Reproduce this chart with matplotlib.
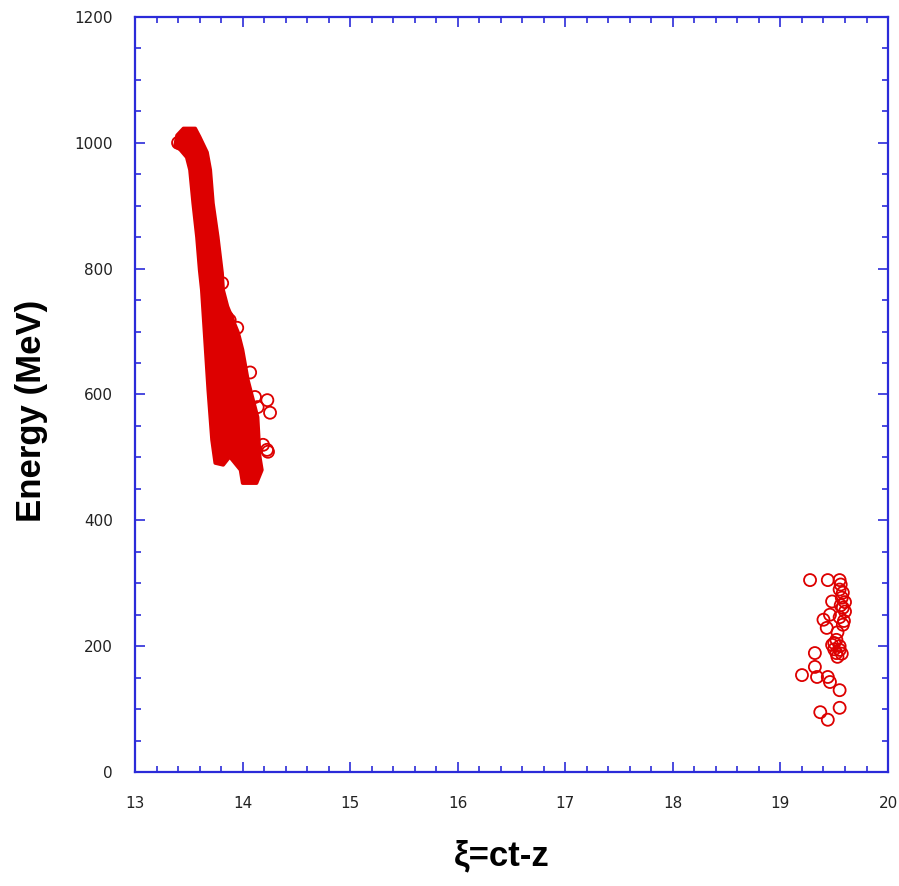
import matplotlib
matplotlib.use("Agg")
import matplotlib.pyplot as plt
from matplotlib.ticker import MultipleLocator

# ---- data ----
# outline of the dense electron bunch (xi, energy)
blob_xi = [13.39, 13.45, 13.56, 13.60, 13.67, 13.70, 13.725, 13.77, 13.81, 13.82,
           13.86, 13.96, 14.00, 14.05, 14.14, 14.16, 14.18, 14.13, 14.00, 13.98,
           13.88, 13.82, 13.745, 13.715, 13.68, 13.65, 13.62, 13.60, 13.575, 13.54,
           13.51, 13.48, 13.42, 13.37]
blob_E = [1012, 1023, 1023, 1010, 985, 957, 904, 850, 793, 766,
          740, 698, 671, 623, 564, 501, 480, 459, 459, 480,
          501, 488, 491, 528, 607, 687, 766, 798, 850, 904,
          957, 977, 989, 995]

# individual particles around the first bunch
main_xi = [13.40, 13.81, 13.855, 13.88, 13.95, 14.07, 14.115, 14.14, 14.23, 14.255,
           14.19, 14.227, 14.236]
main_E = [1000, 777, 723, 718, 706, 635, 596, 580, 591, 571,
          520, 512, 509]

# second (trailing) bunch
tail_xi = [19.275, 19.44, 19.55, 19.55, 19.57, 19.48, 19.58, 19.46, 19.40, 19.55,
           19.58, 19.43, 19.53, 19.50, 19.48, 19.55, 19.52, 19.52, 19.55, 19.50,
           19.57, 19.53, 19.56, 19.58, 19.60, 19.56, 19.60, 19.59,
           19.32, 19.32, 19.20, 19.34, 19.44, 19.46, 19.55, 19.55, 19.37, 19.44]
tail_E = [305, 305, 305, 290, 277, 271, 261, 250, 242, 246,
          234, 229, 222, 205, 202, 194, 189, 210, 200, 195,
          188, 183, 298, 285, 270, 265, 255, 240,
          189, 167, 154, 151, 151, 143, 130, 102, 95, 83]

x_min, x_max = 13, 20
y_min, y_max = 0, 1200

RED = "#dd0000"
BLUE = "#2b2bd9"

fig = plt.figure(figsize=(8.99, 8.86), dpi=100)
ax = fig.add_axes([0.1502, 0.1287, 0.8376, 0.8521])

ax.fill(blob_xi, blob_E, facecolor=RED, edgecolor=RED, linewidth=2.5,
        joinstyle="round", zorder=3)
ax.scatter(main_xi, main_E, s=75, facecolors="none", edgecolors=RED, linewidths=1.3, zorder=4)
ax.scatter(tail_xi, tail_E, s=75, facecolors="none", edgecolors=RED, linewidths=1.3, zorder=4)

ax.set_xlim(x_min, x_max)
ax.set_ylim(y_min, y_max)
ax.xaxis.set_major_locator(MultipleLocator(1))
ax.xaxis.set_minor_locator(MultipleLocator(0.2))
ax.yaxis.set_major_locator(MultipleLocator(200))
ax.yaxis.set_minor_locator(MultipleLocator(50))

for sp in ax.spines.values():
    sp.set_color(BLUE)
    sp.set_linewidth(1.6)

ax.tick_params(which="both", direction="in", top=True, right=True, color=BLUE, width=1.2)
ax.tick_params(which="major", length=7.5)
ax.tick_params(which="minor", length=4.5)
ax.tick_params(axis="x", which="major", pad=17, labelsize=11, labelcolor="#222222")
ax.tick_params(axis="y", which="major", pad=16, labelsize=11, labelcolor="#222222")

ax.set_xlabel("ξ=ct-z", fontsize=25, fontweight="bold", family="Liberation Sans", labelpad=21)
ax.set_ylabel("Energy (MeV)", fontsize=25, fontweight="bold", family="Liberation Sans", labelpad=19)
ax.xaxis.label.set_x(0.487)
ax.yaxis.label.set_y(0.478)

fig.savefig("out.png", dpi=100)
